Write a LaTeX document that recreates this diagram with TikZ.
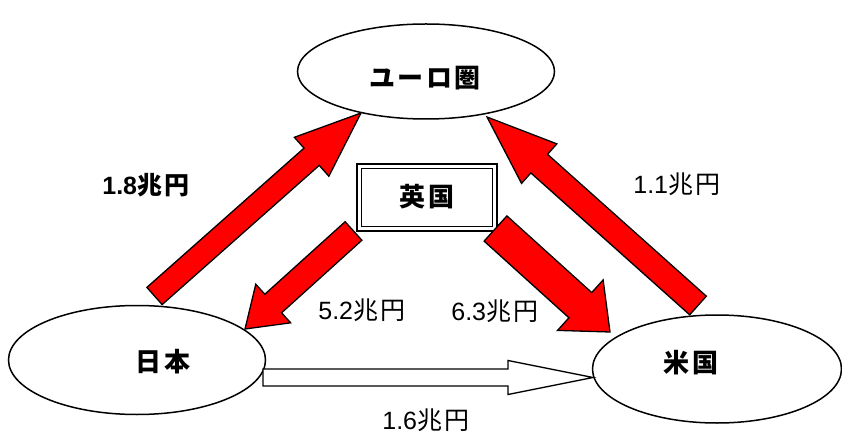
\documentclass[tikz,border=0pt]{standalone}
\usepackage{fontspec}
\setmainfont{Liberation Sans}
\newfontfamily\jp[LetterSpace=10]{Noto Sans CJK JP}
\usetikzlibrary{shapes.geometric,calc}
\newcommand\blockarr[6]{%
  \coordinate (#2-#3-b) at ($(#3)!#6!(#2)$);
  \draw[#1] ($(#2)!#4!90:(#3)$) -- ($(#2-#3-b)!#4!90:(#3)$) -- ($(#2-#3-b)!#5!90:(#3)$) -- (#3)
    -- ($(#2-#3-b)!#5!-90:(#3)$) -- ($(#2-#3-b)!#4!-90:(#3)$) -- ($(#2)!#4!-90:(#3)$) -- cycle;}
\tikzset{
  redarr/.style={draw=black, fill=red, line width=1.3pt, line join=miter},
  whitearr/.style={draw=black, fill=white, line width=1.3pt, line join=miter},
  region/.style={ellipse, draw, line width=1.5pt, fill=white, inner sep=0pt},
  lbl/.style={font=\fontsize{25}{29}\selectfont, inner sep=0pt},
  blbl/.style={font=\fontsize{25}{29}\selectfont\bfseries, inner sep=0pt},
  tlbl/.style={font=\fontsize{26}{30}\selectfont\bfseries, inner sep=0pt},
}
\begin{document}
\begin{tikzpicture}[x=1pt,y=-1pt]
\useasboundingbox (0,0) rectangle (842,435);
% regions
\node[region, minimum width=257pt, minimum height=95pt] (euro) at (426,71.5) {};
\node[region, minimum width=257pt, minimum height=109pt] (japan) at (137,360) {};
\node[region, minimum width=249pt, minimum height=108pt] (usa) at (717,369) {};
\node[draw, double, double distance=3pt, line width=1.5pt, fill=white, inner sep=0pt,
      minimum width=135.5pt, minimum height=62.5pt] (uk) at (426.75,197.75) {};
% region labels
\node[tlbl] (euroT) at (425,78) {\jp ユーロ圏};
\node[tlbl] (ukT) at (427,197) {\jp 英国};
\node[tlbl] (japanT) at (163,362) {\jp 日本};
\node[tlbl] (usaT) at (691,363) {\jp 米国};
% arrow end points
\coordinate (a1t) at (154.5,296);  \coordinate (a1h) at (361,113);
\coordinate (a2t) at (353.5,231);  \coordinate (a2h) at (245,329);
\coordinate (a3t) at (495.5,228.5);\coordinate (a3h) at (610,332);
\coordinate (a4t) at (698,305.5);  \coordinate (a4h) at (487,117);
\coordinate (a5t) at (263,377.5);  \coordinate (a5h) at (593,377.5);
\blockarr{redarr}{a1t}{a1h}{11.5pt}{26pt}{66pt}
\blockarr{redarr}{a2t}{a2h}{12.5pt}{26pt}{38pt}
\blockarr{redarr}{a3t}{a3h}{17pt}{34pt}{40pt}
\blockarr{redarr}{a4t}{a4h}{12.5pt}{26.5pt}{70pt}
\blockarr{whitearr}{a5t}{a5h}{8.5pt}{17pt}{85pt}
% amounts
\node[blbl] (v1) at (146,185) {1.8{\jp 兆円}};
\node[lbl] (v2) at (677,184) {1.1{\jp 兆円}};
\node[lbl] (v3) at (362,310) {5.2{\jp 兆円}};
\node[lbl] (v4) at (495,311) {6.3{\jp 兆円}};
\node[lbl] (v5) at (426,420) {1.6{\jp 兆円}};
\end{tikzpicture}
\end{document}
